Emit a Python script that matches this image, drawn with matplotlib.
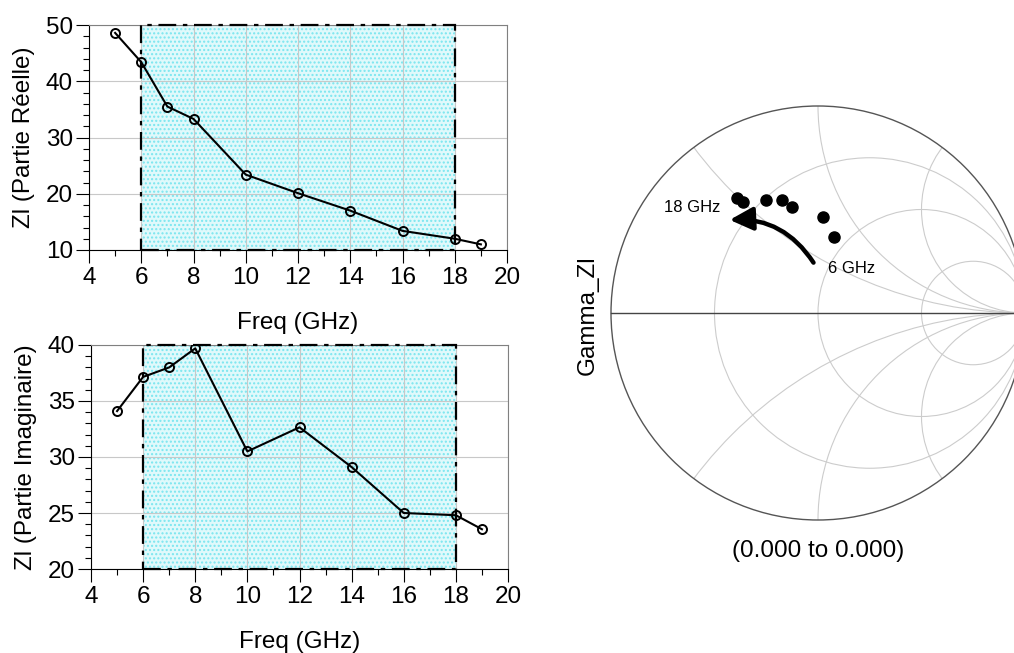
import numpy as np
import matplotlib
matplotlib.use('Agg')
import matplotlib.pyplot as plt
from matplotlib.patches import Rectangle, Circle, FancyArrowPatch

plt.rcParams['font.family'] = ['Liberation Sans', 'DejaVu Sans']

# Données
freq = [5, 6, 7, 8, 10, 12, 14, 16, 18, 19]
zl_reel = [48.6, 43.4, 35.5, 33.3, 23.4, 20.1, 17.0, 13.4, 12.0, 11.0]
zl_imag = [34.1, 37.15, 38.0, 39.7, 30.5, 32.65, 29.1, 25.0, 24.8, 23.55]

# bande 6-18 GHz
bande = (6, 18)

# points de l'abaque de Smith (Gamma_Zl), de 6 GHz vers 18 GHz
gamma_re = [0.077, 0.026, -0.127, -0.172, -0.253, -0.361, -0.393]
gamma_im = [0.366, 0.465, 0.510, 0.546, 0.544, 0.538, 0.554]

# grille de l'abaque
r_vals = [1/3, 1, 3]
x_vals = [0.5, 1, 2]

W, H = 1014, 653
fig = plt.figure(figsize=(W / 100, H / 100), dpi=100)

FS = 17.5


def rect_plot(ax, y, ylim, ymaj, ymin_step, ylabel):
    ax.set_xlim(4, 20)
    ax.set_ylim(*ylim)
    ax.set_axisbelow(True)
    ax.grid(True, which='major', color='#c8c8c8', lw=0.8)
    # zone hachurée
    ax.add_patch(Rectangle((bande[0], ylim[0]), bande[1] - bande[0], ylim[1] - ylim[0],
                           facecolor='#e0f9fb', edgecolor='#7ae6ef', hatch='....',
                           lw=0, zorder=0.1))
    ax.add_patch(Rectangle((bande[0], ylim[0]), bande[1] - bande[0], ylim[1] - ylim[0],
                           facecolor='none', edgecolor='black', lw=1.6,
                           linestyle=(0, (8, 3, 2, 3)), zorder=3, clip_on=False))
    ax.plot(freq, y, color='black', lw=1.5, marker='o', markersize=6.5,
            markerfacecolor='none', markeredgecolor='black', markeredgewidth=1.4, zorder=4)
    ax.set_xticks(np.arange(4, 21, 2))
    ax.set_xticks(np.arange(4, 21, 1), minor=True)
    ax.set_yticks(np.arange(ylim[0], ylim[1] + 0.1, ymaj))
    ax.set_yticks(np.arange(ylim[0], ylim[1] + 0.1, ymin_step), minor=True)
    ax.tick_params(which='major', length=9.5, width=0.8, labelsize=FS, pad=2)
    ax.tick_params(which='minor', length=4.5, width=0.8)
    ax.tick_params(axis='x', which='major', pad=3)
    for s in ['top', 'right']:
        ax.spines[s].set_color('#808080')
    ax.set_xlabel('Freq (GHz)', fontsize=FS, labelpad=16)
    ax.set_ylabel(ylabel, fontsize=FS, labelpad=8)


ax1 = fig.add_axes([89 / W, 1 - 250 / H, 418 / W, 225 / H])
rect_plot(ax1, zl_reel, (10, 50), 10, 2, 'Zl (Partie Réelle)')

ax2 = fig.add_axes([91 / W, 1 - 569 / H, 417 / W, 224 / H])
rect_plot(ax2, zl_imag, (20, 40), 5, 1, 'Zl (Partie Imaginaire)')

# Abaque de Smith
cx, cy, R = 818, 313, 207
L = 1.02
axs = fig.add_axes([(cx - R * L) / W, 1 - (cy + R * L) / H, 2 * R * L / W, 2 * R * L / H])
axs.set_xlim(-L, L)
axs.set_ylim(-L, L)
axs.set_aspect('equal')
axs.axis('off')

unit = Circle((0, 0), 1, facecolor='none', edgecolor='none')
axs.add_patch(unit)
for r in r_vals:
    axs.add_patch(Circle((r / (1 + r), 0), 1 / (1 + r), facecolor='none',
                         edgecolor='#cccccc', lw=0.8))
for xv in x_vals:
    for sgn in (1, -1):
        c = Circle((1, sgn / xv), 1 / xv, facecolor='none', edgecolor='#cccccc', lw=0.8)
        axs.add_patch(c)
        c.set_clip_path(unit)
axs.add_patch(Circle((0, 0), 1, facecolor='none', edgecolor='#555555', lw=1.0))
axs.plot([-1, 1], [0, 0], color='#444444', lw=1.0)

axs.plot(gamma_re, gamma_im, linestyle='none', marker='o', markersize=8,
         color='black')

axs.add_patch(FancyArrowPatch((-0.0145, 0.232), (-0.44, 0.449),
                              connectionstyle='arc3,rad=0.3',
                              arrowstyle='-|>,head_length=0.7,head_width=0.35',
                              mutation_scale=20, lw=3.2, color='black'))
axs.text(-0.609, 0.512, '18 GHz', fontsize=12, ha='center', va='center')
axs.text(0.048, 0.217, '6 GHz', fontsize=12, ha='left', va='center')

fig.text(588 / W, 1 - 315 / H, 'Gamma_Zl', rotation=90, fontsize=FS,
         ha='center', va='center')
fig.text(cx / W, 1 - 551 / H, '(0.000 to 0.000)', fontsize=FS,
         ha='center', va='center')

fig.savefig('out.png', dpi=100)
